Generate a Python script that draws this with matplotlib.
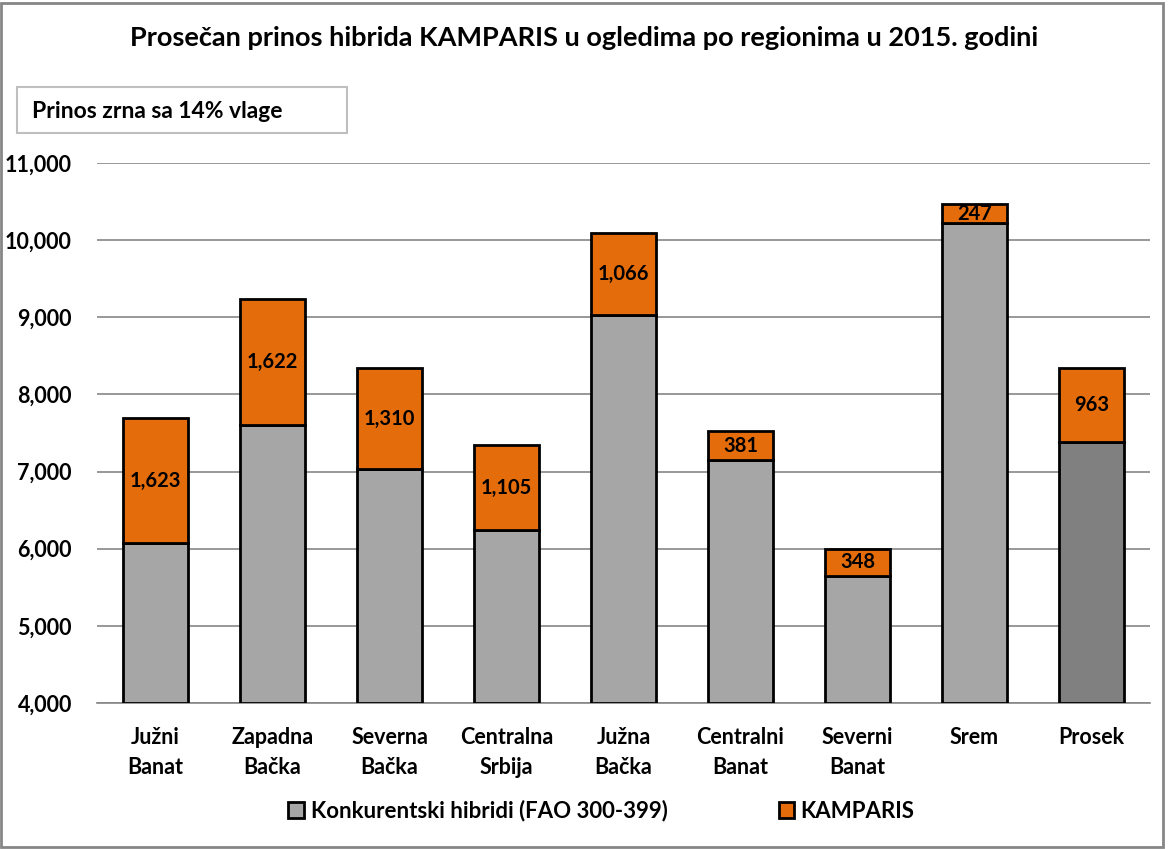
import matplotlib.pyplot as plt
from matplotlib.patches import Rectangle

plt.rcParams['font.family'] = ['Lato', 'DejaVu Sans']
plt.rcParams['font.weight'] = 'bold'

# podaci
regioni = ['Južni\nBanat', 'Zapadna\nBačka', 'Severna\nBačka', 'Centralna\nSrbija', 'Južna\nBačka',
           'Centralni\nBanat', 'Severni\nBanat', 'Srem', 'Prosek']
konkurenti = [6070, 7610, 7030, 6240, 9025, 7145, 5648, 10220, 7380]
kamparis = [1623, 1622, 1310, 1105, 1066, 381, 348, 247, 963]
yticks = [4000, 5000, 6000, 7000, 8000, 9000, 10000, 11000]

fig = plt.figure(figsize=(11.68, 8.49), dpi=100)
ax = fig.add_axes([0.083, 0.172, 0.9016, 0.636])

x = range(len(regioni))
boje = ['#A6A6A6'] * (len(regioni) - 1) + ['#808080']
ax.bar(x, [k - 4000 for k in konkurenti], bottom=4000, width=0.56, color=boje,
       edgecolor='black', linewidth=2, zorder=3, label='Konkurentski hibridi (FAO 300-399)')
ax.bar(x, kamparis, bottom=konkurenti, width=0.56, color='#E46C0A',
       edgecolor='black', linewidth=2, zorder=3, label='KAMPARIS')

for i in x:
    ax.text(i, konkurenti[i] + kamparis[i] / 2, f'{kamparis[i]:,}', ha='center', va='center',
            fontsize=14.5, fontweight='bold', zorder=4)

ax.set_xlim(-0.5, len(regioni) - 0.5)
ax.set_ylim(4000, 11000)
ax.set_yticks(yticks)
ax.set_yticklabels([f'{v:,}' for v in yticks], fontsize=15.5, fontweight='bold')
ax.set_xticks(list(x))
ax.set_xticklabels(regioni, fontsize=15.5, fontweight='bold', linespacing=1.55)
ax.tick_params(axis='x', length=0, pad=17)
ax.tick_params(axis='y', length=0, pad=18)
ax.grid(axis='y', color='#868686', linewidth=1.2, zorder=0)
for s in ['top', 'right', 'left']:
    ax.spines[s].set_visible(False)
ax.spines['bottom'].set_color('#868686')
ax.spines['bottom'].set_linewidth(1.2)

fig.text(0.5, 1 - 38 / 849, 'Prosečan prinos hibrida KAMPARIS u ogledima po regionima u 2015. godini',
         ha='center', va='center', fontsize=19.5, fontweight='bold')

fig.patches.append(Rectangle((17 / 1168, 1 - 133 / 849), 330 / 1168, 46 / 849, transform=fig.transFigure,
                             facecolor='white', edgecolor='#BFBFBF', linewidth=1.5))
fig.text(32 / 1168, 1 - 111 / 849, 'Prinos zrna sa 14% vlage', ha='left', va='center',
         fontsize=16.5, fontweight='bold')

leg = fig.legend(loc='center', bbox_to_anchor=(0.515, 1 - 811 / 849), ncol=2, frameon=False,
                 fontsize=16, handlelength=0.7, handleheight=0.7, handletextpad=0.3, columnspacing=5.0)
for t in leg.get_texts():
    t.set_fontweight('bold')

fig.patches.append(Rectangle((0.001, 0.002), 0.995, 0.995, transform=fig.transFigure,
                             facecolor='none', edgecolor='#868686', linewidth=2))

fig.savefig('out.png', dpi=100)
